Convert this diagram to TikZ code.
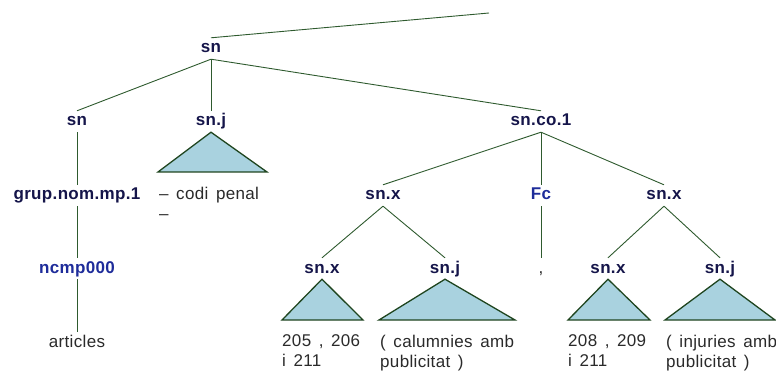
\documentclass[tikz,border=0pt]{standalone}
\usepackage{fontspec}
\setmainfont{Liberation Sans}[LetterSpace=2.0]
\newfontfamily\leaffont{Liberation Sans}[LetterSpace=2.0,WordSpace=1.5]
\definecolor{linecol}{HTML}{2E5A2E}
\definecolor{tricol}{HTML}{1F451F}
\definecolor{trifill}{HTML}{A9D2DF}
\definecolor{labcol}{HTML}{15154A}
\definecolor{bluecol}{HTML}{1E2C9A}
\definecolor{leafcol}{HTML}{2A2A2A}
\begin{document}
\begin{tikzpicture}[x=1pt,y=-1pt,
  lab/.style={font=\fontsize{17}{20}\selectfont\bfseries, text=labcol, anchor=base,
              text height=12pt, text depth=3pt, inner sep=3pt},
  blab/.style={lab, text=bluecol},
  leafc/.style={font=\fontsize{17}{20}\selectfont\leaffont, text=leafcol, anchor=base,
              text height=12pt, text depth=3pt, inner sep=3pt},
  leaf/.style={font=\fontsize{17}{20}\selectfont\leaffont, text=leafcol, anchor=north west,
              align=left, inner sep=0pt},
  edge/.style={draw=linecol, line width=0.9pt},
  tri/.style={draw=tricol, fill=trifill, line width=1.3pt, line join=miter}]
\useasboundingbox (0,0) rectangle (776,374);

% labels
\node[lab] (root) at (211,53) {sn};
\coordinate (top) at (489,13);
\node[lab] (sn1) at (77,126) {sn};
\node[lab] (snj1) at (211,126) {sn.j};
\node[lab] (snco) at (541,126) {sn.co.1};
\node[lab] (grup) at (77,200) {grup.nom.mp.1};
\node[lab] (snxa) at (383,200) {sn.x};
\node[blab] (fc) at (541,200) {Fc};
\node[lab] (snxb) at (664,200) {sn.x};
\node[blab] (ncmp) at (77,273) {ncmp000};
\node[lab] (snxa1) at (322,273) {sn.x};
\node[lab] (snja2) at (445,273) {sn.j};
\node[leafc] (comma) at (541,273) {,};
\node[lab] (snxb1) at (608,273) {sn.x};
\node[lab] (snjb2) at (720,273) {sn.j};
\node[leafc] (art) at (77,347) {articles};

% edges
\draw[edge] (root.north) -- (top);
\draw[edge] (root.south) -- (sn1.north);
\draw[edge] (root.south) -- (snj1.north);
\draw[edge] (root.south) -- (snco.north);
\draw[edge] (sn1.south) -- (grup.north);
\draw[edge] (grup.south) -- (ncmp.north);
\draw[edge] (ncmp.south) -- (art.north);
\draw[edge] (snco.south) -- (snxa.north);
\draw[edge] (snco.south) -- (fc.north);
\draw[edge] (snco.south) -- (snxb.north);
\draw[edge] (snxa.south) -- (snxa1.north);
\draw[edge] (snxa.south) -- (snja2.north);
\draw[edge] (fc.south) -- (comma.north);
\draw[edge] (snxb.south) -- (snxb1.north);
\draw[edge] (snxb.south) -- (snjb2.north);

% triangles
\draw[tri] (snj1.south) -- (158,172) -- (267,172) -- cycle;
\draw[tri] (snxa1.south) -- (282,320) -- (363,320) -- cycle;
\draw[tri] (snja2.south) -- (379,320) -- (515,320) -- cycle;
\draw[tri] (snxb1.south) -- (568,320) -- (650,320) -- cycle;
\draw[tri] (snjb2.south) -- (665,320) -- (775,320) -- cycle;

% leaf texts
\node[leaf] (t1) at (159,186.5) {– codi penal\\–};
\node[leaf] (t2) at (282,334.5) {205 , 206\\i 211};
\node[leaf] (t3) at (380,334.5) {( calumnies amb\\publicitat )};
\node[leaf] (t4) at (568,334.5) {208 , 209\\i 211};
\node[leaf] (t5) at (666,334.5) {( injuries amb\\publicitat )};
\end{tikzpicture}
\end{document}
